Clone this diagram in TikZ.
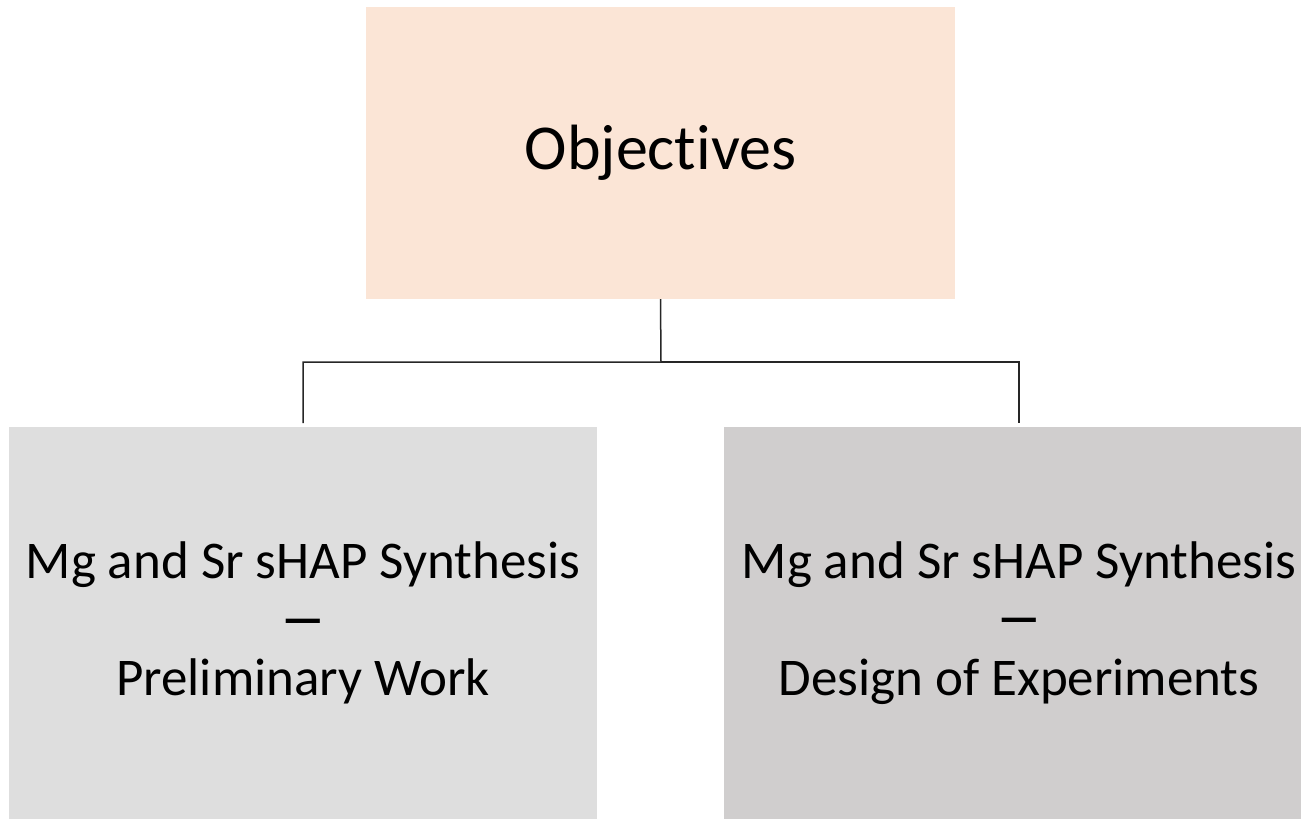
\documentclass[tikz,border=0pt]{standalone}
\usepackage{fontspec}
\setmainfont[Ligatures={NoCommon,NoRequired},Contextuals=NoAlternate]{Carlito}
\definecolor{peach}{HTML}{FBE5D6}
\definecolor{lgray}{HTML}{DEDEDE}
\definecolor{dgray}{HTML}{D0CECE}
\newcommand{\wdash}{\raisebox{-3pt}{\scalebox{1.8}[1.3]{–}}}
\begin{document}
\begin{tikzpicture}[x=1pt,y=-1pt,
  boxstyle/.style={draw=none,anchor=center,align=center,inner sep=0pt},
  topbox/.style={boxstyle,fill=peach,minimum width=589pt,minimum height=292pt,font=\fontsize{64}{70}\selectfont},
  lowbox/.style={boxstyle,minimum width=588pt,minimum height=392pt,font=\fontsize{53}{58.5}\selectfont},
  conn/.style={draw=black!85,line width=1.5pt}]
\useasboundingbox (0,0) rectangle (1301,819);
\node[topbox] (top) at (660.5,153) {Objec\kern0pt t\kern0pt ives};
\node[lowbox,fill=lgray] (left) at (303,623) {Mg and Sr sHAP Synthesis\\\wdash\\Preliminary Work};
\node[lowbox,fill=dgray,minimum width=590pt] (right) at (1019,623) {Mg and Sr sHAP Synthesis\\\wdash\\Design of Experiments};
\coordinate (lend) at (303,423);
\coordinate (rend) at (1019,423);
\coordinate (mid) at (661,362);
\draw[conn] (top.south) -- (mid) -- (mid -| lend) -- (lend);
\draw[conn] (mid) -- (mid -| rend) -- (rend);
\end{tikzpicture}
\end{document}
